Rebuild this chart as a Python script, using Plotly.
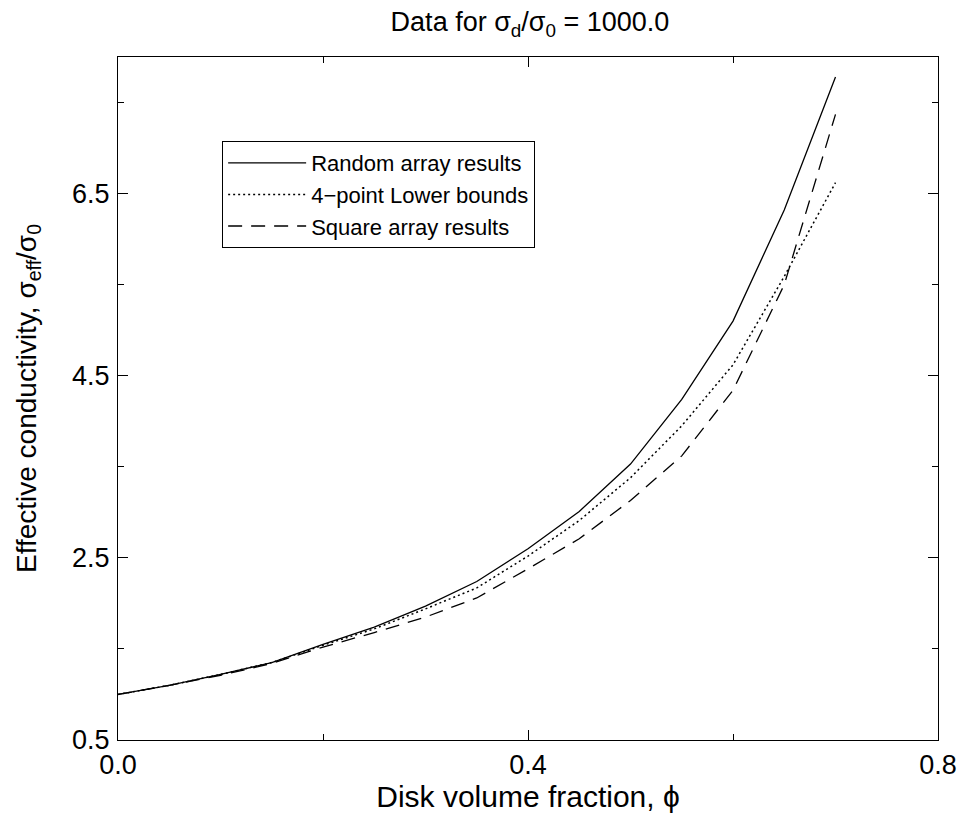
import plotly.graph_objects as go

phi = [0.0, 0.05, 0.10, 0.15, 0.20, 0.25, 0.30, 0.35, 0.40, 0.45, 0.50, 0.55, 0.60, 0.65, 0.70]
random_array = [1.0, 1.10, 1.22, 1.35, 1.55, 1.74, 1.97, 2.24, 2.60, 3.01, 3.53, 4.24, 5.10, 6.32, 7.78]
lower_bound = [1.0, 1.10, 1.22, 1.35, 1.54, 1.72, 1.94, 2.17, 2.52, 2.91, 3.38, 3.95, 4.62, 5.59, 6.62]
square_array = [1.0, 1.10, 1.21, 1.34, 1.52, 1.68, 1.85, 2.06, 2.38, 2.71, 3.13, 3.62, 4.34, 5.50, 7.37]

x_ticks = [0.0, 0.4, 0.8]
x_tick_labels = ["0.0", "0.4", "0.8"]
y_ticks = [0.5, 2.5, 4.5, 6.5]
y_tick_labels = ["0.5", "2.5", "4.5", "6.5"]

FONT = "Liberation Sans, Arial, Helvetica, sans-serif"

fig = go.Figure()
fig.add_trace(go.Scatter(x=phi, y=random_array, mode="lines", name="Random array results",
                         line=dict(color="black", width=1.3, dash="solid")))
fig.add_trace(go.Scatter(x=phi, y=lower_bound, mode="lines", name="4\u2212point Lower bounds",
                         line=dict(color="black", width=1.5, dash="2px,3px")))
fig.add_trace(go.Scatter(x=phi, y=square_array, mode="lines", name="Square array results",
                         line=dict(color="black", width=1.3, dash="14px,9px")))

axis_common = dict(
    showline=True, linecolor="black", linewidth=1.3, mirror="ticks",
    ticks="inside", ticklen=10, tickwidth=1.2, tickcolor="black",
    showgrid=False, zeroline=False, automargin=False,
    ticklabeloverflow="allow",
    tickfont=dict(family=FONT, size=27, color="black"),
)

fig.update_xaxes(
    range=[0, 0.8], tickmode="array", tickvals=x_ticks, ticktext=x_tick_labels,
    ticklabelstandoff=0,
    minor=dict(tickvals=[0.2, 0.6], ticks="inside", ticklen=6, tickwidth=1, tickcolor="black"),
    title=dict(text="Disk volume fraction, \u03d5", font=dict(family=FONT, size=30, color="black"), standoff=4),
    **axis_common,
)
fig.update_yaxes(
    range=[0.5, 8.0], tickmode="array", tickvals=y_ticks, ticktext=y_tick_labels,
    ticklabelstandoff=2,
    minor=dict(tickvals=[1.5, 3.5, 5.5, 7.5], ticks="inside", ticklen=6, tickwidth=1, tickcolor="black"),
    title=dict(text="Effective conductivity, \u03c3<sub>eff</sub>/\u03c3<sub>0</sub>",
               font=dict(family=FONT, size=28, color="black"), standoff=27),
    **axis_common,
)

fig.update_layout(
    width=963, height=816,
    paper_bgcolor="white", plot_bgcolor="white",
    margin=dict(l=118, r=25, t=57, b=76),
    title=dict(text="Data for \u03c3<sub>d</sub>/\u03c3<sub>0</sub> = 1000.0",
               x=530 / 963, xanchor="center", y=1 - 22 / 816, yanchor="middle",
               font=dict(family=FONT, size=27, color="black")),
    showlegend=True,
    legend=dict(x=0.127, y=0.877, xanchor="left", yanchor="top",
                bordercolor="black", borderwidth=1, bgcolor="white",
                font=dict(family=FONT, size=22, color="black"),
                itemwidth=78, tracegroupgap=0),
)

fig.write_html("out.html", config={"displayModeBar": False},
               post_script="document.body.style.margin='0px';")
